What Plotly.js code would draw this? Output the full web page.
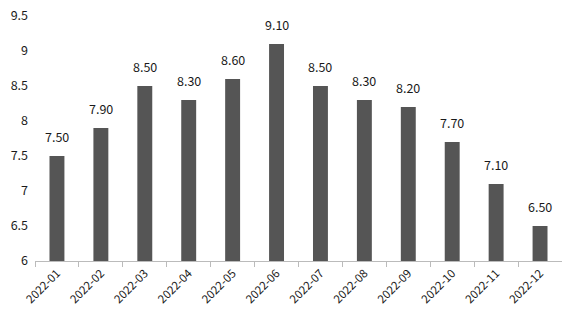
<!DOCTYPE html>
<html><head><meta charset="utf-8">
<script src="https://cdn.plot.ly/plotly-3.0.1.min.js"></script>
<style>html,body{margin:0;padding:0;background:#fff;}#c{width:562px;height:323px;}</style>
</head><body><div id="c"></div>
<script>
const categories = ["2022-01","2022-02","2022-03","2022-04","2022-05","2022-06","2022-07","2022-08","2022-09","2022-10","2022-11","2022-12"];
const values = [7.50, 7.90, 8.50, 8.30, 8.60, 9.10, 8.50, 8.30, 8.20, 7.70, 7.10, 6.50];
const yTicks = [6, 6.5, 7, 7.5, 8, 8.5, 9, 9.5];
const yTickLabels = ["6", "6.5", "7", "7.5", "8", "8.5", "9", "9.5"];

const font = {family: "Noto Sans CJK SC, DejaVu Sans, sans-serif", size: 12, color: "#1a1a1a"};
const annotations = categories.map((c, i) => ({
  x: c, y: values[i], xref: "x", yref: "y",
  text: values[i].toFixed(2),
  showarrow: false, yanchor: "bottom", yshift: 8,
  font: {family: font.family, size: 12.5, color: "#1a1a1a"}
}));
Plotly.newPlot("c", [{
  type: "bar",
  x: categories,
  y: values,
  base: 0,
  marker: {color: "#555555"},
  hoverinfo: "none"
}], {
  width: 562, height: 323,
  margin: {l: 35, r: 0, t: 16, b: 62},
  paper_bgcolor: "#fff", plot_bgcolor: "#fff",
  bargap: 0.66,
  showlegend: false,
  font: font,
  annotations: annotations,
  xaxis: {
    type: "category",
    tickangle: -45,
    tickfont: {family: font.family, size: 11.5, color: "#1a1a1a"},
    showline: true, linecolor: "#bbbbbb", linewidth: 1,
    ticks: "outside", ticklen: 5, tickcolor: "#bbbbbb",
    tickson: "boundaries",
    showgrid: false
  },
  yaxis: {
    range: [6, 9.5],
    tickvals: yTicks, ticktext: yTickLabels,
    showgrid: false, zeroline: false, showline: false,
    ticks: "", ticklabelstandoff: 6,
    tickfont: {family: font.family, size: 12.5, color: "#1a1a1a"}
  }
}, {staticPlot: true});
</script></body></html>
